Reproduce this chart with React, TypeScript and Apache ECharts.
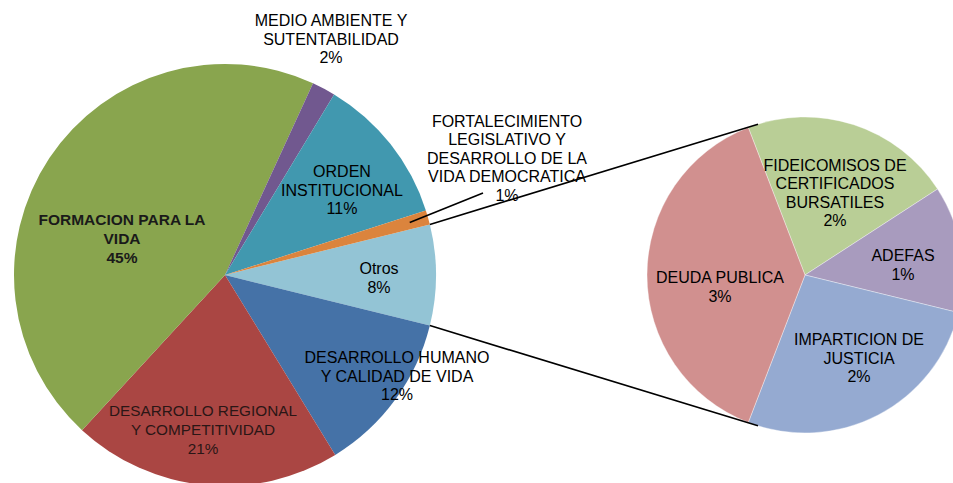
import React, { useEffect, useRef } from "react";
import * as echarts from "echarts";

// ---- Data ----
// Main pie, in clockwise order starting with the "Otros" slice
const MAIN_CATEGORIES = [
  "Otros",
  "DESARROLLO HUMANO\nY CALIDAD DE VIDA",
  "DESARROLLO REGIONAL\nY COMPETITIVIDAD",
  "FORMACION PARA LA\nVIDA",
  "MEDIO AMBIENTE Y\nSUTENTABILIDAD",
  "ORDEN\nINSTITUCIONAL",
  "FORTALECIMIENTO\nLEGISLATIVO Y\nDESARROLLO DE LA\nVIDA DEMOCRATICA",
];
const MAIN_VALUES = [7.7, 12.4, 20.6, 45.0, 1.8, 11.4, 1.1];

// Secondary pie ("Otros" broken down), clockwise
const SUB_CATEGORIES = [
  "FIDEICOMISOS DE\nCERTIFICADOS\nBURSATILES",
  "ADEFAS",
  "IMPARTICION DE\nJUSTICIA",
  "DEUDA PUBLICA",
];
const SUB_VALUES = [1.67, 1.0, 2.08, 2.95];

// ---- Styles ----
const MAIN_COLORS = ["#93C4D5", "#4572A7", "#AA4643", "#89A54E", "#71588F", "#4198AF", "#DB843D"];
const SUB_COLORS = ["#B9CE96", "#A89BBE", "#95AAD1", "#D1908F"];

// ---- Layout ----
const W = 953;
const H = 483;
const MAIN_C = [225, 275];
const MAIN_R = 211;
const SUB_C = [805, 275];
const SUB_R = 158;
const CONNECT_ANGLE = 107.3; // where connector lines meet the secondary pie (deg)
const MAIN_LABEL_POS = [
  [379, 278],
  [397, 376],
  [203, 429],
  [122, 238],
  [331, 39],
  [342, 190],
  [507, 158],
];
const SUB_LABEL_POS = [
  [835, 193],
  [903, 265],
  [859, 358],
  [720, 287],
];
const LEADER_END = [483, 193];
const FONT = "'Liberation Sans', Arial, sans-serif";

export default function App() {
  const ref = useRef<HTMLDivElement>(null);

  useEffect(() => {
    if (!ref.current) return;
    const chart = echarts.init(ref.current, undefined, { renderer: "svg" });

    const total = MAIN_VALUES.reduce((a, b) => a + b, 0);
    const subTotal = SUB_VALUES.reduce((a, b) => a + b, 0);
    const pct = (v: number) => `${Math.round((v / total) * 100)}%`;

    const mainStart = ((MAIN_VALUES[0] / total) * 360) / 2;
    const subStart = 180 - ((SUB_VALUES[SUB_VALUES.length - 1] / subTotal) * 360) / 2;

    const baseLabel = {
      show: true,
      position: "inside",
      color: "#000",
      fontFamily: FONT,
      fontSize: 16,
      lineHeight: 18.5,
      formatter: (p: any) => `${p.name}\n${pct(p.value)}`,
    };

    const mainData = MAIN_CATEGORIES.map((name, i) => {
      const item: any = { name, value: MAIN_VALUES[i], itemStyle: { color: MAIN_COLORS[i] } };
      if (i === 3) item.label = { fontWeight: "bold", fontSize: 15.5, lineHeight: 19, color: "#1a1a1a" };
      if (i === 2) item.label = { fontSize: 15.3, lineHeight: 19, color: "#2a1616" };
      return item;
    });
    const subData = SUB_CATEGORIES.map((name, i) => ({
      name,
      value: SUB_VALUES[i],
      itemStyle: { color: SUB_COLORS[i] },
    }));

    const rad = (d: number) => (d * Math.PI) / 180;
    const onCircle = (c: number[], r: number, deg: number) => [
      c[0] + r * Math.cos(rad(deg)),
      c[1] - r * Math.sin(rad(deg)),
    ];

    const mainTop = onCircle(MAIN_C, MAIN_R, mainStart);
    const mainBot = onCircle(MAIN_C, MAIN_R, -mainStart);
    const subTop = onCircle(SUB_C, SUB_R, CONNECT_ANGLE);
    const subBot = onCircle(SUB_C, SUB_R, -CONNECT_ANGLE);

    const lastIdx = MAIN_VALUES.length - 1;
    const fortMid = mainStart + ((MAIN_VALUES[lastIdx] / total) * 360) / 2;
    const leaderStart = onCircle(MAIN_C, MAIN_R * 0.91, fortMid);

    const lineStyle = { stroke: "#000", lineWidth: 1.6 };

    chart.setOption({
      animation: false,
      backgroundColor: "#fff",
      series: [
        {
          type: "pie",
          silent: true,
          center: MAIN_C,
          radius: [0, MAIN_R],
          startAngle: mainStart,
          clockwise: true,
          avoidLabelOverlap: false,
          minShowLabelAngle: 0,
          label: baseLabel,
          labelLine: { show: false },
          labelLayout: (p: any) => {
            const pos = MAIN_LABEL_POS[p.dataIndex];
            return { x: pos[0], y: pos[1], align: "center", verticalAlign: "middle", hideOverlap: false };
          },
          itemStyle: { borderWidth: 0 },
          data: mainData,
        },
        {
          type: "pie",
          silent: true,
          center: SUB_C,
          radius: [0, SUB_R],
          startAngle: subStart,
          clockwise: true,
          avoidLabelOverlap: false,
          minShowLabelAngle: 0,
          label: baseLabel,
          labelLine: { show: false },
          labelLayout: (p: any) => {
            const pos = SUB_LABEL_POS[p.dataIndex];
            return { x: pos[0], y: pos[1], align: "center", verticalAlign: "middle", hideOverlap: false };
          },
          itemStyle: { borderWidth: 0.6, borderColor: "rgba(255,255,255,0.6)" },
          data: subData,
        },
      ],
      graphic: [
        {
          type: "line",
          z: 100,
          shape: { x1: mainTop[0], y1: mainTop[1], x2: subTop[0], y2: subTop[1] },
          style: lineStyle,
        },
        {
          type: "line",
          z: 100,
          shape: { x1: mainBot[0], y1: mainBot[1], x2: subBot[0], y2: subBot[1] },
          style: lineStyle,
        },
        {
          type: "line",
          z: 100,
          shape: { x1: leaderStart[0], y1: leaderStart[1], x2: LEADER_END[0], y2: LEADER_END[1] },
          style: lineStyle,
        },
      ],
    });

    return () => chart.dispose();
  }, []);

  return (
    <div
      ref={ref}
      style={{ position: "fixed", left: 0, top: 0, width: W, height: H, background: "#fff" }}
    />
  );
}
